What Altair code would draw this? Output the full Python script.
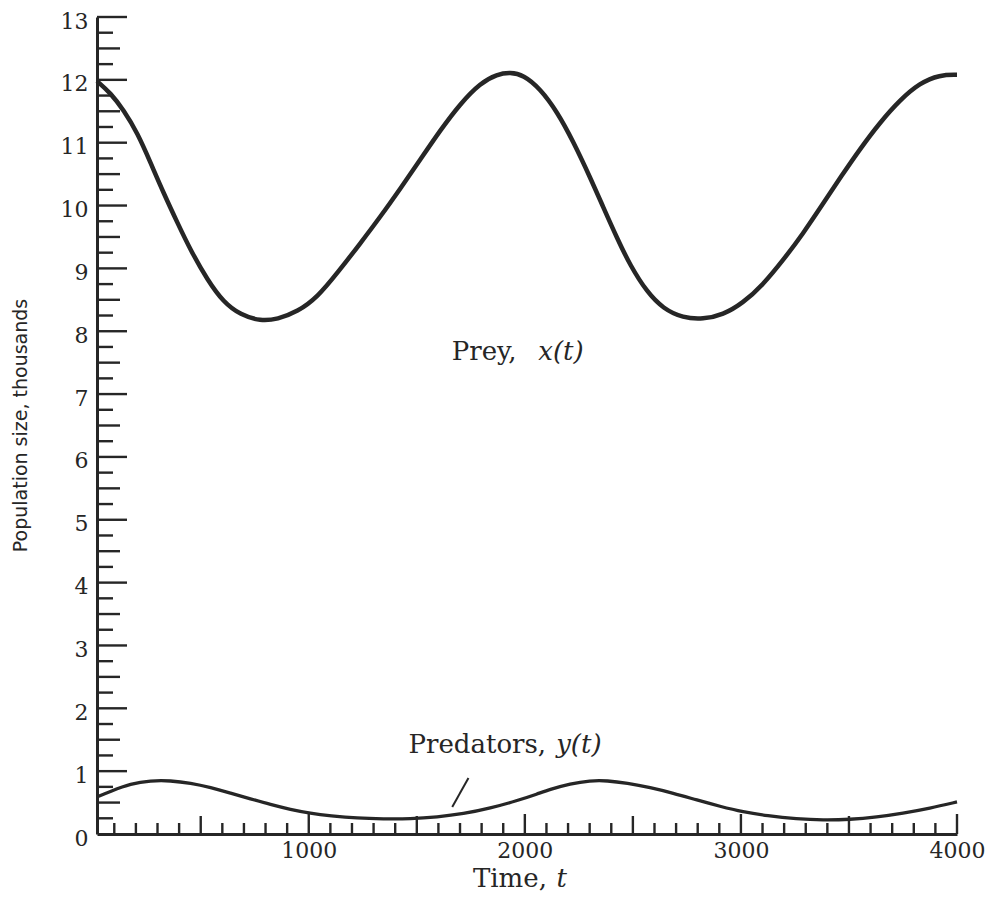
import altair as alt
import pandas as pd

INK = "#262626"

# ---- data ----
prey_t = [20, 83, 143, 208, 268, 328, 393, 453, 532, 606, 684, 777, 855, 948,
          1040, 1133, 1239, 1331, 1424, 1516, 1609, 1701, 1794, 1872, 1932, 1993,
          2071, 2150, 2224, 2302, 2362, 2427, 2487, 2566, 2640, 2732, 2825, 2917,
          3010, 3102, 3195, 3287, 3380, 3465, 3551, 3643, 3736, 3828, 3920, 4000]
prey_v = [11.98, 11.79, 11.52, 11.15, 10.68, 10.20, 9.72, 9.29, 8.81, 8.46, 8.26,
          8.16, 8.19, 8.31, 8.54, 8.93, 9.40, 9.82, 10.27, 10.73, 11.20, 11.62,
          11.95, 12.09, 12.12, 12.08, 11.86, 11.49, 11.02, 10.45, 9.98, 9.48, 9.05,
          8.62, 8.36, 8.21, 8.19, 8.26, 8.45, 8.74, 9.13, 9.55, 10.03, 10.47, 10.90,
          11.32, 11.68, 11.95, 12.08, 12.08]

pred_t = [20, 83, 176, 268, 360, 453, 546, 638, 730, 823, 915, 1008, 1100, 1225,
          1345, 1470, 1595, 1715, 1840, 1965, 2060, 2117, 2210, 2302, 2381, 2473,
          2580, 2686, 2797, 2903, 3010, 3121, 3259, 3380, 3504, 3629, 3749, 3874, 4000]
pred_v = [0.59, 0.68, 0.80, 0.85, 0.85, 0.81, 0.74, 0.65, 0.56, 0.47, 0.39, 0.33,
          0.29, 0.25, 0.24, 0.24, 0.27, 0.32, 0.41, 0.53, 0.64, 0.71, 0.80, 0.85,
          0.85, 0.81, 0.74, 0.65, 0.54, 0.44, 0.35, 0.29, 0.24, 0.22, 0.23, 0.27,
          0.33, 0.41, 0.51]

# annotation texts (centre t, baseline value)
upright_labels = ["Prey,", "Predators,", "Time,"]
upright_t = [1812, 1780, 1931]
upright_v = [7.54, 1.29, -0.85]
italic_labels = ["x(t)", "y(t)", "t"]
italic_t = [2167, 2250, 2171]
italic_v = [7.54, 1.29, -0.85]

# pointer slash near the predator curve
pointer_t = [1664]
pointer_v = [0.43]
pointer_t2 = [1739]
pointer_v2 = [0.89]

# tick positions
x_label_values = [1000, 2000, 3000, 4000]
x_ticks_major = [1000, 2000, 3000, 4000]
x_ticks_half = [500, 1500, 2500, 3500]
x_ticks_minor = [v for v in range(100, 4000, 100) if v % 500 != 0]
y_label_values = list(range(0, 14))
y_ticks_major = list(range(1, 14))
y_ticks_half = [k + 0.5 for k in range(0, 13)]
y_ticks_quarter = [k + q for k in range(0, 13) for q in (0.25, 0.75)]

W, H = 860, 817
x_scale = alt.Scale(domain=[20, 4000], nice=False, zero=False)
y_scale = alt.Scale(domain=[0, 13], nice=False, zero=False)

x_axis = alt.Axis(values=x_label_values, format="d", ticks=False, grid=False,
                  domainColor=INK, domainWidth=3, labelFont="DejaVu Serif",
                  labelFontSize=22, labelColor=INK, labelPadding=6,
                  labelFlush=False, title=" ")
y_axis = alt.Axis(values=y_label_values, format="d", ticks=False, grid=False,
                  domainColor=INK, domainWidth=3, labelFont="DejaVu Serif",
                  labelFontSize=22, labelColor=INK, labelPadding=9, labelOffset=4,
                  title="Population size, thousands", titleFont="DejaVu Sans",
                  titleFontSize=19, titleFontWeight="normal", titleColor=INK,
                  titleX=-77, titleY=408, titleAngle=270, titleBaseline="middle",
                  titleAlign="center")

X = alt.X("t:Q", scale=x_scale, axis=x_axis)
Y = alt.Y("v:Q", scale=y_scale, axis=y_axis)

prey_df = pd.DataFrame({"t": prey_t, "v": prey_v})
pred_df = pd.DataFrame({"t": pred_t, "v": pred_v})

prey = alt.Chart(prey_df).mark_line(color=INK, strokeWidth=4.5, interpolate="basis").encode(x=X, y=Y)
pred = alt.Chart(pred_df).mark_line(color=INK, strokeWidth=3.3, interpolate="basis").encode(x=X, y=Y)


def xticks(vals, length):
    return alt.Chart(pd.DataFrame({"t": vals})).mark_rule(color=INK, strokeWidth=2.4).encode(
        x=X, y=alt.value(H), y2=alt.value(H - length))


def yticks(vals, length):
    return alt.Chart(pd.DataFrame({"v": vals})).mark_rule(color=INK, strokeWidth=2.4).encode(
        y=Y, x=alt.value(0), x2=alt.value(length))


up_df = pd.DataFrame({"t": upright_t, "v": upright_v, "label": upright_labels})
it_df = pd.DataFrame({"t": italic_t, "v": italic_v, "label": italic_labels})

up_text = alt.Chart(up_df).mark_text(align="center", baseline="alphabetic", font="DejaVu Serif",
                                     fontSize=26, color=INK).encode(x=X, y=Y, text="label:N")
it_text = alt.Chart(it_df).mark_text(align="center", baseline="alphabetic", font="DejaVu Serif",
                                     fontStyle="italic", fontSize=26, color=INK).encode(
    x=X, y=Y, text="label:N")

ptr_df = pd.DataFrame({"t": pointer_t, "v": pointer_v, "t2": pointer_t2, "v2": pointer_v2})
pointer = alt.Chart(ptr_df).mark_rule(color=INK, strokeWidth=2).encode(
    x=X, y=Y, x2="t2:Q", y2="v2:Q")

chart = alt.layer(
    prey, pred,
    xticks(x_ticks_major, 20), xticks(x_ticks_half, 18), xticks(x_ticks_minor, 11),
    yticks(y_ticks_major, 30), yticks(y_ticks_half, 23), yticks(y_ticks_quarter, 16),
    up_text, it_text, pointer,
).properties(
    width=W, height=H,
    autosize=alt.AutoSizeParams(type="none"),
    padding={"left": 89, "top": 9, "right": 30, "bottom": 60},
    background="white",
).configure_view(strokeOpacity=0)

chart.save("out.html", embed_options={"renderer": "svg", "actions": False})
